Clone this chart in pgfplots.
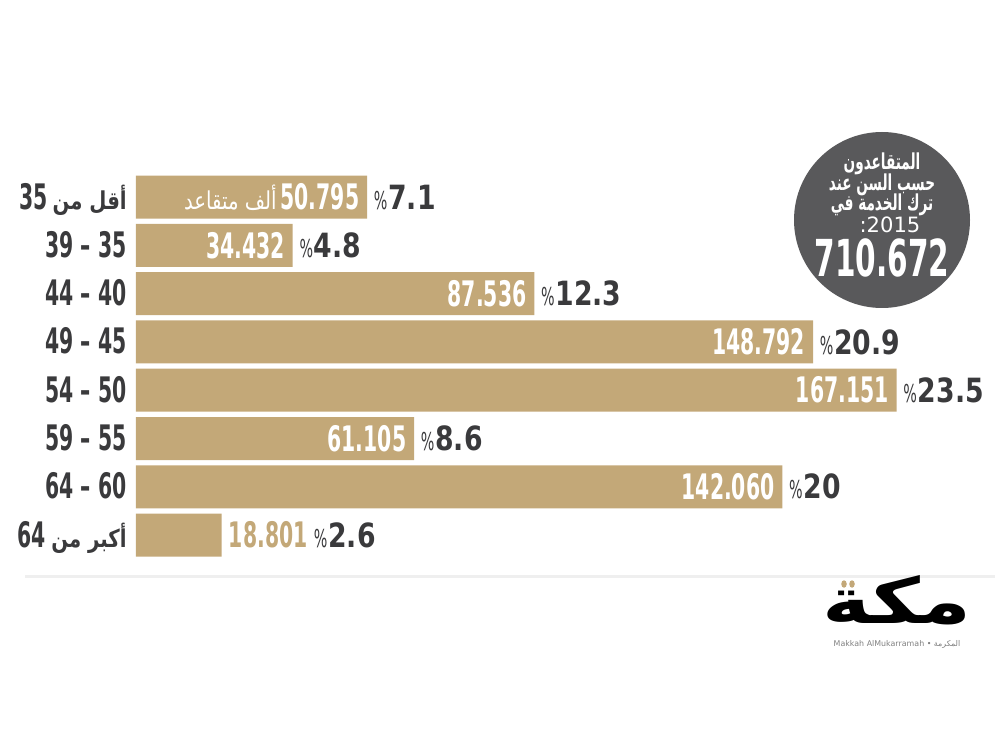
\documentclass[border=0pt]{standalone}
\usepackage{graphicx}
\usepackage{pgfplots}
\pgfplotsset{compat=1.18}
\usepackage{pgfplotstable}
\usepackage{fontspec}
\setmainfont{DejaVu Sans}
\newfontfamily\cnd{DejaVu Sans}[FakeStretch=0.58]
\newfontfamily\pnum{DejaVu Sans}[FakeStretch=0.8]
\newfontfamily\arab[Script=Arabic]{DejaVu Sans}
\newfontfamily\arabc[Script=Arabic,FakeStretch=0.8]{DejaVu Sans}
\newfontfamily\arabcc[Script=Arabic,FakeStretch=0.62]{DejaVu Sans}
\TeXXeTstate=1
\definecolor{tan}{HTML}{C3A878}
\definecolor{dk}{HTML}{3A3A3C}
\definecolor{circ}{HTML}{59595B}
\definecolor{rulec}{HTML}{EFEFEF}

\pgfplotstableread{
idx val pctx lab pct
0 50.795 50.795 50.795 7.1
1 34.432 34.432 34.432 4.8
2 87.536 87.536 87.536 12.3
3 148.792 148.792 148.792 20.9
4 167.151 167.151 167.151 23.5
5 61.105 61.105 61.105 8.6
6 142.060 142.060 142.060 20
7 18.801 37.6 18.801 2.6
}\data

\pgfplotsset{hidemark/.style={only marks, mark=*, mark size=0.1pt,
  scatter/use mapped color={draw=none,fill=none},
  mark options={draw opacity=0, fill opacity=0, opacity=0}}}

\begin{document}
\begin{tikzpicture}
\path[use as bounding box] (0,0) rectangle (20,15);
\draw[rulec, line width=0.06cm] (0.5,3.48) -- (19.9,3.48);
\begin{axis}[
  at={(2.72cm,3.815cm)}, anchor=south west,
  scale only axis, width=16.38cm, height=7.728cm,
  xmin=0, xmax=180, ymin=-0.5, ymax=7.5, y dir=reverse,
  axis line style={draw=none}, xtick=\empty,
  ytick={0,...,7}, major tick length=0pt,
  yticklabels={{35\hspace{3pt}{\arabc\fontsize{14}{14}\selectfont\beginR أقل من\endR}}, {39 – 35}, {44 – 40}, {49 – 45}, {54 – 50}, {59 – 55}, {64 – 60}, {64\hspace{3pt}{\arabc\fontsize{14}{14}\selectfont\beginR أكبر من\endR}}},
  yticklabel style={anchor=base east, inner sep=0pt, xshift=-0.18cm, yshift=-0.24cm, text=dk, font=\cnd\bfseries\fontsize{20}{20}\selectfont},
  clip=false,
]
\addplot[xbar, bar shift=0pt, bar width=0.86cm, fill=tan, draw=none] table[x=val,y=idx]{\data};
\addplot[hidemark, nodes near coords, point meta=explicit symbolic,
  skip coords between index={7}{8},
  nodes near coords style={anchor=east, text=white, opacity=1, text opacity=1, inner sep=0pt, xshift=-0.15cm, font=\cnd\bfseries\fontsize{20}{20}\selectfont}]
  table[x=val,y=idx,meta=lab]{\data};
\addplot[hidemark, nodes near coords, point meta=explicit symbolic,
  skip coords between index={0}{7},
  nodes near coords style={anchor=west, text=tan, opacity=1, text opacity=1, inner sep=0pt, xshift=0.14cm, font=\cnd\bfseries\fontsize{20}{20}\selectfont}]
  table[x=val,y=idx,meta=lab]{\data};
\addplot[hidemark,
  nodes near coords={{\cnd\fontsize{14}{14}\selectfont\%}\hspace{0.5pt}{\pnum\bfseries\fontsize{19}{19}\selectfont\pgfplotspointmeta}},
  point meta=explicit symbolic,
  nodes near coords style={anchor=west, text=dk, opacity=1, text opacity=1, inner sep=0pt, xshift=0.13cm}]
  table[x=pctx,y=idx,meta=pct]{\data};
\node[anchor=base east, text=white, inner sep=0pt, yshift=-0.24cm] at (axis cs:31,0) {\arabc\fontsize{14}{14}\selectfont\beginR ألف متقاعد\endR};
\end{axis}
% circle
\fill[circ] (17.64,10.6) circle (1.76);
\node[text=white] at (17.64,11.72) {\arabcc\bfseries\fontsize{12.5}{12.5}\selectfont\beginR المتقاعدون\endR};
\node[text=white] at (17.64,11.30) {\arabcc\bfseries\fontsize{12.5}{12.5}\selectfont\beginR حسب السن عند\endR};
\node[text=white] at (17.64,10.90) {\arabcc\bfseries\fontsize{12.5}{12.5}\selectfont\beginR ترك الخدمة في\endR};
\node[text=white] at (17.80,10.50) {\fontsize{12}{12}\selectfont :2015};
\node[text=white] at (17.64,9.84) {\cnd\bfseries\fontsize{29}{29}\selectfont 710.672};
% logo
\fill[tan] (16.88,3.32) ellipse (0.055 and 0.075);
\fill[tan] (17.04,3.32) ellipse (0.055 and 0.075);
\node[text=black, inner sep=0pt] at (17.94,2.99) {\scalebox{1.3}[1]{\arab\bfseries\fontsize{36}{36}\selectfont\beginR مكة\endR}};
\node[text=gray, inner sep=0pt] at (17.94,2.12) {\fontsize{4.5}{5}\selectfont Makkah AlMukarramah • {\arab\beginR المكرمة\endR}};
\end{tikzpicture}
\end{document}
